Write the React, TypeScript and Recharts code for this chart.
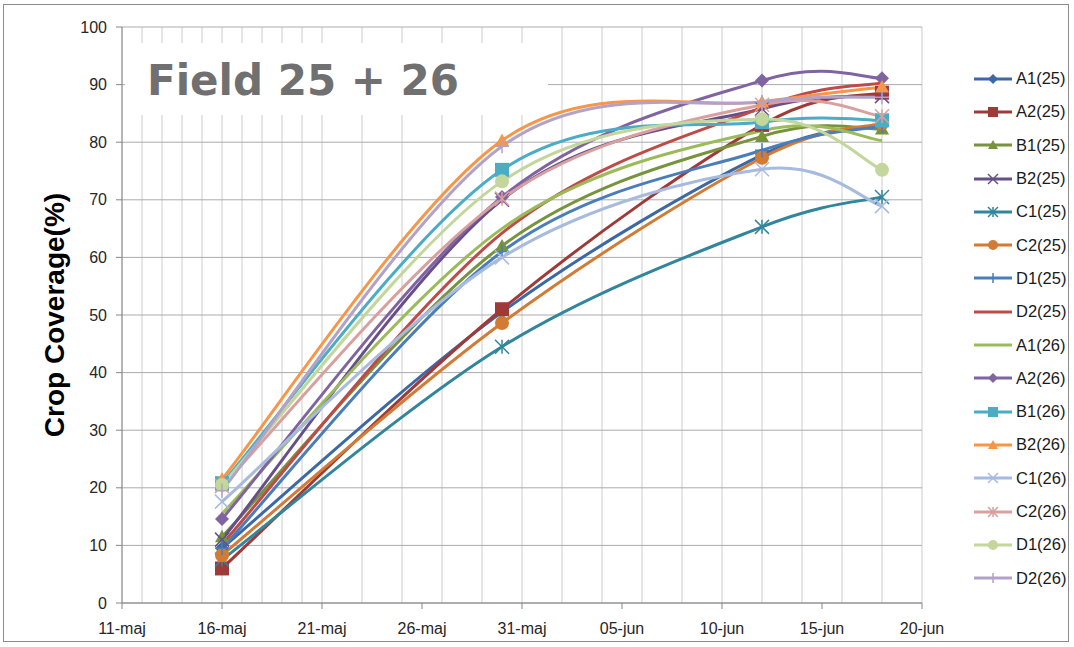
import React from 'react';
import { LineChart, Line, XAxis, YAxis, CartesianGrid } from 'recharts';

// days counted from 11-maj (day 0); samples taken 16-maj, 30-maj, 12-jun, 18-jun
const sampleDays = [5, 19, 32, 38];
const dateTicks = [0, 5, 10, 15, 20, 25, 30, 35, 40];
const dateLabels = ['11-maj', '16-maj', '21-maj', '26-maj', '31-maj', '05-jun', '10-jun', '15-jun', '20-jun'];
const dayGrid = Array.from({ length: 41 }, (_, i) => i);
const coverageTicks = [0, 10, 20, 30, 40, 50, 60, 70, 80, 90, 100];

const a1_25 = [9.5, 50.5, 77.8, 83];
const a2_25 = [6, 51, 83, 88.6];
const b1_25 = [11.5, 62, 81, 82.3];
const b2_25 = [11, 70, 85.8, 88];
const c1_25 = [7.5, 44.5, 65.3, 70.5];
const c2_25 = [8.3, 48.6, 77.3, 83.3];
const d1_25 = [9.5, 61, 78.6, 82.8];
const d2_25 = [10.2, 64.2, 86, 90.3];
const a1_26 = [15.5, 65, 82, 80.3];
const a2_26 = [14.6, 70.5, 90.7, 91.1];
const b1_26 = [20.8, 75.2, 83.5, 83.8];
const b2_26 = [21.5, 80.3, 87, 89.6];
const c1_26 = [17.6, 60, 75.3, 68.9];
const c2_26 = [20.3, 70.2, 86.5, 84.5];
const d1_26 = [20.5, 73.2, 84, 75.2];
const d2_26 = [19.5, 79.3, 87, 87.8];

type Shape = 'diamond' | 'square' | 'triangle' | 'x' | 'star' | 'circle' | 'plus' | 'none';

const series: { key: string; values: number[]; color: string; shape: Shape }[] = [
  { key: 'A1(25)', values: a1_25, color: '#3C69A6', shape: 'diamond' },
  { key: 'A2(25)', values: a2_25, color: '#9E3B39', shape: 'square' },
  { key: 'B1(25)', values: b1_25, color: '#77933C', shape: 'triangle' },
  { key: 'B2(25)', values: b2_25, color: '#674F8A', shape: 'x' },
  { key: 'C1(25)', values: c1_25, color: '#31869D', shape: 'star' },
  { key: 'C2(25)', values: c2_25, color: '#D17B35', shape: 'circle' },
  { key: 'D1(25)', values: d1_25, color: '#4A7EBB', shape: 'plus' },
  { key: 'D2(25)', values: d2_25, color: '#BE4B48', shape: 'none' },
  { key: 'A1(26)', values: a1_26, color: '#9BBB59', shape: 'none' },
  { key: 'A2(26)', values: a2_26, color: '#8064A2', shape: 'diamond' },
  { key: 'B1(26)', values: b1_26, color: '#4BACC6', shape: 'square' },
  { key: 'B2(26)', values: b2_26, color: '#F79646', shape: 'triangle' },
  { key: 'C1(26)', values: c1_26, color: '#A7BADF', shape: 'x' },
  { key: 'C2(26)', values: c2_26, color: '#D9A09F', shape: 'star' },
  { key: 'D1(26)', values: d1_26, color: '#C3D69B', shape: 'circle' },
  { key: 'D2(26)', values: d2_26, color: '#B3A2C7', shape: 'plus' },
];

const data = sampleDays.map((day, i) => {
  const row: Record<string, number> = { day };
  series.forEach((s) => (row[s.key] = s.values[i]));
  return row;
});

// excel-like smoothed line (catmull-rom through the points)
const smoothCurve = (context: any) => {
  let pts: number[][] = [];
  return {
    areaStart() {},
    areaEnd() {},
    lineStart() {
      pts = [];
    },
    point(x: number, y: number) {
      pts.push([+x, +y]);
    },
    lineEnd() {
      if (!pts.length) return;
      context.moveTo(pts[0][0], pts[0][1]);
      for (let i = 0; i < pts.length - 1; i++) {
        const p0 = pts[i - 1] || pts[i];
        const p1 = pts[i];
        const p2 = pts[i + 1];
        const p3 = pts[i + 2] || pts[i + 1];
        context.bezierCurveTo(
          p1[0] + (p2[0] - p0[0]) / 6,
          p1[1] + (p2[1] - p0[1]) / 6,
          p2[0] - (p3[0] - p1[0]) / 6,
          p2[1] - (p3[1] - p1[1]) / 6,
          p2[0],
          p2[1]
        );
      }
    },
  };
};

const Marker = ({ shape, color, cx, cy, s }: { shape: Shape; color: string; cx: number; cy: number; s: number }) => {
  switch (shape) {
    case 'diamond':
      return <polygon points={`${cx},${cy - s} ${cx + s},${cy} ${cx},${cy + s} ${cx - s},${cy}`} fill={color} />;
    case 'square':
      return <rect x={cx - s} y={cy - s} width={s * 2} height={s * 2} fill={color} />;
    case 'triangle':
      return <polygon points={`${cx},${cy - s} ${cx + s},${cy + s * 0.8} ${cx - s},${cy + s * 0.8}`} fill={color} />;
    case 'circle':
      return <circle cx={cx} cy={cy} r={s} fill={color} />;
    case 'x':
      return (
        <g stroke={color} strokeWidth={1.5}>
          <line x1={cx - s} y1={cy - s} x2={cx + s} y2={cy + s} />
          <line x1={cx - s} y1={cy + s} x2={cx + s} y2={cy - s} />
        </g>
      );
    case 'star':
      return (
        <g stroke={color} strokeWidth={1.5}>
          <line x1={cx - s} y1={cy - s} x2={cx + s} y2={cy + s} />
          <line x1={cx - s} y1={cy + s} x2={cx + s} y2={cy - s} />
          <line x1={cx} y1={cy - s} x2={cx} y2={cy + s} />
        </g>
      );
    case 'plus':
      return (
        <g stroke={color} strokeWidth={1.5}>
          <line x1={cx - s} y1={cy} x2={cx + s} y2={cy} />
          <line x1={cx} y1={cy - s} x2={cx} y2={cy + s} />
        </g>
      );
    default:
      return null;
  }
};

const renderDot = (shape: Shape, color: string) => (props: any) => (
  <g key={`dot-${props.index}`}>
    <Marker shape={shape} color={color} cx={props.cx} cy={props.cy} s={7} />
  </g>
);

const font = '"Liberation Sans", Arial, sans-serif';

export default function App() {
  return (
    <div style={{ position: 'absolute', left: 0, top: 0, width: 1074, height: 647, background: '#fff', fontFamily: font }}>
      <div style={{ position: 'absolute', left: 3, top: 4, width: 1064, height: 636, border: '1px solid #8c8c8c' }} />
      <div style={{ position: 'absolute', left: 0, top: 0 }}>
        <LineChart width={960} height={647} data={data} margin={{ top: 27, right: 38, bottom: 14, left: 62 }}>
          <XAxis xAxisId="minor" type="number" dataKey="day" domain={[0, 40]} ticks={dayGrid} hide />
          <CartesianGrid xAxisId="minor" horizontal={false} stroke="#cccccc" strokeWidth={1} />
          <CartesianGrid vertical={false} stroke="#ababab" strokeWidth={1} />
          <XAxis
            type="number"
            dataKey="day"
            domain={[0, 40]}
            ticks={dateTicks}
            tickFormatter={(v: number) => dateLabels[dateTicks.indexOf(v)]}
            height={30}
            stroke="#868686"
            tickSize={6}
            tick={{ fill: '#262626', fontSize: 16, fontFamily: font }}
            tickMargin={14}
            interval={0}
          />
          <YAxis
            domain={[0, 100]}
            ticks={coverageTicks}
            width={60}
            stroke="#868686"
            tickSize={6}
            tickMargin={9}
            tick={{ fill: '#262626', fontSize: 16, fontFamily: font }}
            interval={0}
          />
          {series.map((s) => (
            <Line
              key={s.key}
              dataKey={s.key}
              type={smoothCurve as any}
              stroke={s.color}
              strokeWidth={3}
              dot={s.shape === 'none' ? false : renderDot(s.shape, s.color)}
              activeDot={false}
              isAnimationActive={false}
            />
          ))}
        </LineChart>
      </div>
      <div
        style={{
          position: 'absolute',
          left: 125,
          top: 43,
          width: 423,
          height: 72,
          background: '#fff',
          color: '#707070',
          fontFamily: '"DejaVu Sans", sans-serif',
          fontWeight: 'bold',
          fontSize: 42,
          lineHeight: '76px',
          paddingLeft: 22,
          boxSizing: 'border-box',
          whiteSpace: 'nowrap',
        }}
      >
        Field 25 + 26
      </div>
      <div
        style={{
          position: 'absolute',
          left: 55,
          top: 315,
          transform: 'translate(-50%, -50%) rotate(-90deg)',
          fontWeight: 'bold',
          fontSize: 28,
          whiteSpace: 'nowrap',
          color: '#000',
        }}
      >
        Crop Coverage(%)
      </div>
      <div style={{ position: 'absolute', left: 972, top: 62 }}>
        {series.map((s) => (
          <div key={s.key} style={{ height: 33.3, display: 'flex', alignItems: 'center' }}>
            <svg width={40} height={16} style={{ marginRight: 4 }}>
              <line x1={2} y1={8} x2={40} y2={8} stroke={s.color} strokeWidth={3} />
              <Marker shape={s.shape} color={s.color} cx={21} cy={8} s={5} />
            </svg>
            <span style={{ fontSize: 16.5, color: '#1a1a1a' }}>{s.key}</span>
          </div>
        ))}
      </div>
    </div>
  );
}
